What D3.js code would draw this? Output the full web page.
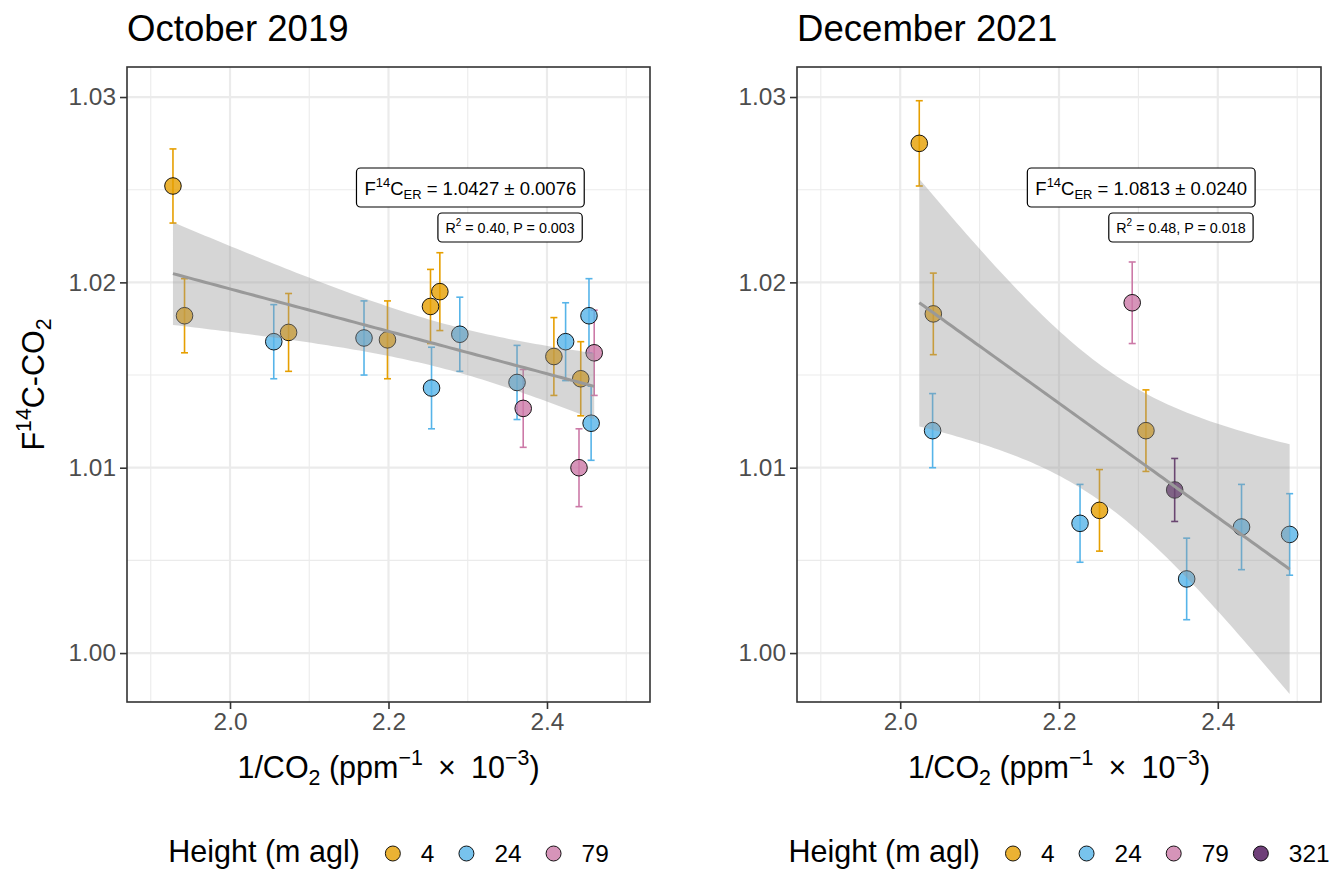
<!DOCTYPE html>
<html>
<head>
<meta charset="utf-8">
<script src="https://cdn.jsdelivr.net/npm/d3@7"></script>
<style>
  body { margin: 0; background: #fff; }
  text { font-family: "Liberation Sans", Arial, Helvetica, sans-serif; white-space: pre; }
</style>
</head>
<body>
<div id="vis"></div>
<script>
// sampling heights and their colours
const heights = [4, 24, 79, 321];
const heightColors = ["#E69F00", "#56B4E9", "#CC79A7", "#4B0F57"];

// October 2019
const octHeight = [4, 4, 4, 4, 4, 4, 4, 4, 24, 24, 24, 24, 24, 24, 24, 24, 79, 79, 79];
const octX = [1.928, 1.9426, 2.0739, 2.1987, 2.253, 2.2648, 2.4087, 2.4426,
              2.0552, 2.1691, 2.2543, 2.290, 2.3622, 2.4235, 2.453, 2.4557,
              2.370, 2.4404, 2.4596];
const octY = [1.0252, 1.0182, 1.0173, 1.0169, 1.0187, 1.0195, 1.0160, 1.0148,
              1.0168, 1.0170, 1.0143, 1.0172, 1.0146, 1.0168, 1.0182, 1.0124,
              1.0132, 1.0100, 1.0162];
const octErr = [0.0020, 0.0020, 0.0021, 0.0021, 0.0020, 0.0021, 0.0021, 0.0020,
                0.0020, 0.0020, 0.0022, 0.0020, 0.0020, 0.0021, 0.0020, 0.0020,
                0.0021, 0.0021, 0.0023];

// December 2021
const decHeight = [4, 4, 4, 4, 24, 24, 24, 24, 24, 79, 321];
const decX = [2.024, 2.0417, 2.251, 2.3095, 2.0408, 2.2265, 2.3608, 2.4299, 2.4905, 2.2922, 2.3457];
const decY = [1.0275, 1.0183, 1.0077, 1.0120, 1.0120, 1.0070, 1.0040, 1.0068, 1.0064, 1.0189, 1.0088];
const decErr = [0.0023, 0.0022, 0.0022, 0.0022, 0.0020, 0.0021, 0.0022, 0.0023, 0.0022, 0.0022, 0.0017];

// fit annotations (text and right-edge anchor in x units)
const octFer = "1.0427 ± 0.0076", octR2 = "0.40", octP = "0.003";
const decFer = "1.0813 ± 0.0240", decR2 = "0.48", decP = "0.018";
const labelX = 2.447;

// axis ticks
const xTicks = [2.0, 2.2, 2.4];
const xMinor = [1.9, 2.1, 2.3, 2.5];
const yTicks = [1.00, 1.01, 1.02, 1.03];
const yMinor = [1.005, 1.015, 1.025];

const W = 1331, H = 870;
const base = 30.5;
const small = base * 0.8;
const panelTop = 67, panelBottom = 702;

const colorScale = d3.scaleOrdinal().domain(heights).range(heightColors);

const panels = [
  { title: "October 2019", left: 127, right: 650, h: octHeight, x: octX, y: octY, e: octErr,
    fer: octFer, r2: octR2, p: octP, showY: true },
  { title: "December 2021", left: 797, right: 1321, h: decHeight, x: decX, y: decY, e: decErr,
    fer: decFer, r2: decR2, p: decP, showY: false }
];

const svg = d3.select("#vis").append("svg")
  .attr("width", W).attr("height", H)
  .attr("viewBox", `0 0 ${W} ${H}`);

svg.append("rect").attr("width", W).attr("height", H).attr("fill", "#fff");

// rich text helper: parts with sup/sub
function rich(sel, parts, size) {
  let shift = 0;
  parts.forEach(p => {
    const target = p.sup ? -0.42 * size : p.sub ? 0.22 * size : 0;
    sel.append("tspan")
      .attr("dy", target - shift)
      .style("font-size", (p.sup || p.sub ? size * 0.7 : size) + "px")
      .text(p.t);
    shift = target;
  });
}

// t quantile (97.5%) via Cornish-Fisher expansion
function tQuantile(df) {
  const z = 1.959964;
  const z3 = z ** 3, z5 = z ** 5, z7 = z ** 7;
  return z + (z3 + z) / (4 * df) + (5 * z5 + 16 * z3 + 3 * z) / (96 * df * df)
    + (3 * z7 + 19 * z5 + 17 * z3 - 15 * z) / (384 * df ** 3);
}

function linFit(xs, ys) {
  const n = xs.length;
  const mx = d3.mean(xs), my = d3.mean(ys);
  let sxx = 0, sxy = 0;
  xs.forEach((x, i) => { sxx += (x - mx) ** 2; sxy += (x - mx) * (ys[i] - my); });
  const b = sxy / sxx, a = my - b * mx;
  let sse = 0;
  xs.forEach((x, i) => { sse += (ys[i] - a - b * x) ** 2; });
  const s = Math.sqrt(sse / (n - 2));
  const t = tQuantile(n - 2);
  const x0 = d3.min(xs), x1 = d3.max(xs);
  return d3.range(80).map(k => {
    const xv = x0 + (x1 - x0) * k / 79;
    const yh = a + b * xv;
    const se = s * Math.sqrt(1 / n + (xv - mx) ** 2 / sxx);
    return { x: xv, y: yh, lo: yh - t * se, hi: yh + t * se };
  });
}

panels.forEach(pn => {
  const xScale = d3.scaleLinear().domain([1.87, 2.53]).range([pn.left, pn.right]);
  const yScale = d3.scaleLinear().domain([0.99736, 1.03162]).range([panelBottom, panelTop]);
  const g = svg.append("g");

  const cid = "clip" + pn.left;
  svg.append("clipPath").attr("id", cid).append("rect")
    .attr("x", pn.left).attr("y", panelTop)
    .attr("width", pn.right - pn.left).attr("height", panelBottom - panelTop);

  // grid
  const grid = g.append("g");
  grid.selectAll(".minx").data(xMinor).enter().append("line")
    .attr("x1", d => xScale(d)).attr("x2", d => xScale(d))
    .attr("y1", panelTop).attr("y2", panelBottom)
    .attr("stroke", "#EBEBEB").attr("stroke-width", 1.1);
  grid.selectAll(".miny").data(yMinor).enter().append("line")
    .attr("y1", d => yScale(d)).attr("y2", d => yScale(d))
    .attr("x1", pn.left).attr("x2", pn.right)
    .attr("stroke", "#EBEBEB").attr("stroke-width", 1.1);
  grid.selectAll(".majx").data(xTicks).enter().append("line")
    .attr("x1", d => xScale(d)).attr("x2", d => xScale(d))
    .attr("y1", panelTop).attr("y2", panelBottom)
    .attr("stroke", "#EBEBEB").attr("stroke-width", 2.2);
  grid.selectAll(".majy").data(yTicks).enter().append("line")
    .attr("y1", d => yScale(d)).attr("y2", d => yScale(d))
    .attr("x1", pn.left).attr("x2", pn.right)
    .attr("stroke", "#EBEBEB").attr("stroke-width", 2.2);

  const data = pn.x.map((x, i) => ({ x, y: pn.y[i], e: pn.e[i], h: pn.h[i] }));
  const plot = g.append("g").attr("clip-path", `url(#${cid})`);

  // error bars
  const eb = plot.selectAll(".eb").data(data).enter().append("g")
    .attr("stroke", d => colorScale(d.h)).attr("stroke-width", 1.6).attr("fill", "none");
  eb.append("line")
    .attr("x1", d => xScale(d.x)).attr("x2", d => xScale(d.x))
    .attr("y1", d => yScale(d.y - d.e)).attr("y2", d => yScale(d.y + d.e));
  eb.append("line")
    .attr("x1", d => xScale(d.x) - 3.5).attr("x2", d => xScale(d.x) + 3.5)
    .attr("y1", d => yScale(d.y + d.e)).attr("y2", d => yScale(d.y + d.e));
  eb.append("line")
    .attr("x1", d => xScale(d.x) - 3.5).attr("x2", d => xScale(d.x) + 3.5)
    .attr("y1", d => yScale(d.y - d.e)).attr("y2", d => yScale(d.y - d.e));

  // points
  plot.selectAll(".pt").data(data).enter().append("circle")
    .attr("cx", d => xScale(d.x)).attr("cy", d => yScale(d.y)).attr("r", 8.3)
    .attr("fill", d => colorScale(d.h)).attr("fill-opacity", 0.8)
    .attr("stroke", "#000").attr("stroke-width", 0.9);

  // smooth (lm with 95% band)
  const fit = linFit(pn.x, pn.y);
  plot.append("path").datum(fit)
    .attr("d", d3.area().x(d => xScale(d.x)).y0(d => yScale(d.lo)).y1(d => yScale(d.hi)))
    .attr("fill", "#999999").attr("fill-opacity", 0.4);
  plot.append("path").datum(fit)
    .attr("d", d3.line().x(d => xScale(d.x)).y(d => yScale(d.y)))
    .attr("fill", "none").attr("stroke", "#999999").attr("stroke-width", 3);

  // annotation labels
  const rightEdge = xScale(labelX);
  const lab1 = g.append("g");
  const t1 = lab1.append("text").attr("y", 194.5).style("font-size", "18.5px").attr("fill", "#000");
  rich(t1, [{ t: "F" }, { t: "14", sup: true }, { t: "C" }, { t: "ER", sub: true }, { t: " = " + pn.fer }], 18.5);
  const w1 = t1.node().getComputedTextLength();
  t1.attr("x", rightEdge - 8 - w1);
  lab1.insert("rect", "text")
    .attr("x", rightEdge - w1 - 16).attr("y", 168).attr("width", w1 + 16).attr("height", 39)
    .attr("rx", 4).attr("fill", "#fff").attr("stroke", "#000").attr("stroke-width", 1.2);

  const lab2 = g.append("g");
  const t2 = lab2.append("text").attr("y", 232.5).style("font-size", "14.3px").attr("fill", "#000");
  rich(t2, [{ t: "R" }, { t: "2", sup: true }, { t: " = " + pn.r2 + ", P = " + pn.p }], 14.3);
  const w2 = t2.node().getComputedTextLength();
  t2.attr("x", rightEdge - 2 - 7.5 - w2);
  lab2.insert("rect", "text")
    .attr("x", rightEdge - 2 - w2 - 15).attr("y", 213).attr("width", w2 + 15).attr("height", 29)
    .attr("rx", 4).attr("fill", "#fff").attr("stroke", "#000").attr("stroke-width", 1.2);

  // border
  g.append("rect")
    .attr("x", pn.left).attr("y", panelTop)
    .attr("width", pn.right - pn.left).attr("height", panelBottom - panelTop)
    .attr("fill", "none").attr("stroke", "#333333").attr("stroke-width", 1.6);

  // axes
  const gx = g.append("g").attr("transform", `translate(0,${panelBottom})`)
    .call(d3.axisBottom(xScale).tickValues(xTicks).tickFormat(d3.format(".1f")).tickSize(7).tickPadding(4));
  const gy = g.append("g").attr("transform", `translate(${pn.left},0)`)
    .call(d3.axisLeft(yScale).tickValues(yTicks).tickFormat(d3.format(".2f")).tickSize(7).tickPadding(4));
  [gx, gy].forEach(ax => {
    ax.select(".domain").remove();
    ax.selectAll(".tick line").attr("stroke", "#333333").attr("stroke-width", 1.6);
    ax.selectAll(".tick text").attr("fill", "#4D4D4D")
      .style("font-size", small + "px").style("font-family", '"Liberation Sans", Arial, sans-serif');
  });

  // titles
  g.append("text").attr("x", pn.left).attr("y", 41)
    .style("font-size", (base * 1.2) + "px").attr("fill", "#000").text(pn.title);

  const xt = g.append("text").attr("x", (pn.left + pn.right) / 2).attr("y", 778)
    .attr("text-anchor", "middle").attr("fill", "#000").style("font-size", base + "px");
  rich(xt, [{ t: "1/CO" }, { t: "2", sub: true }, { t: " (ppm" }, { t: "−1", sup: true },
            { t: "\u2002×\u200210" }, { t: "−3", sup: true }, { t: ")" }], base);

  if (pn.showY) {
    const yt = g.append("text")
      .attr("transform", `translate(44,${(panelTop + panelBottom) / 2}) rotate(-90)`)
      .attr("text-anchor", "middle").attr("fill", "#000").style("font-size", base + "px");
    rich(yt, [{ t: "F" }, { t: "14", sup: true }, { t: "C-CO" }, { t: "2", sub: true }], base);
  }

  // legend
  const present = heights.filter(h => pn.h.includes(h));
  const lg = g.append("g");
  const lt = lg.append("text").attr("x", 0).attr("y", 862)
    .style("font-size", base + "px").attr("fill", "#000").text("Height (m agl)");
  let cx = lt.node().getComputedTextLength() + 33;
  present.forEach(h => {
    lg.append("circle").attr("cx", cx).attr("cy", 853.5).attr("r", 7.5)
      .attr("fill", colorScale(h)).attr("fill-opacity", 0.8)
      .attr("stroke", "#000").attr("stroke-width", 0.9);
    const tt = lg.append("text").attr("x", cx + 28).attr("y", 862)
      .style("font-size", small + "px").attr("fill", "#000").text(h);
    cx = cx + 28 + tt.node().getComputedTextLength() + 32;
  });
  const total = cx - 32;
  lg.attr("transform", `translate(${(pn.left + pn.right) / 2 - total / 2},0)`);
});
</script>
</body>
</html>
